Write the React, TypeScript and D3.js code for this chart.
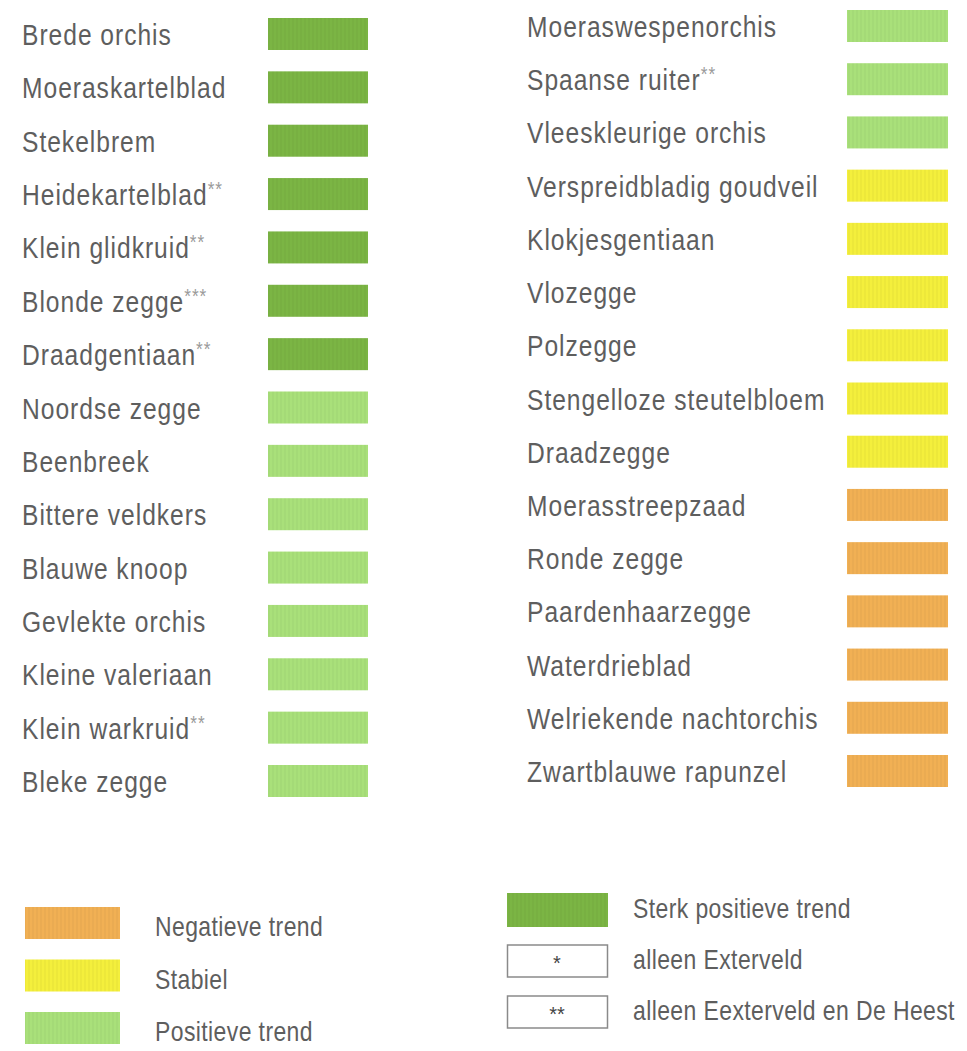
import React from "react";
import * as d3 from "d3";

// ---- Data ----
const leftSpecies = [
  "Brede orchis",
  "Moeraskartelblad",
  "Stekelbrem",
  "Heidekartelblad**",
  "Klein glidkruid**",
  "Blonde zegge***",
  "Draadgentiaan**",
  "Noordse zegge",
  "Beenbreek",
  "Bittere veldkers",
  "Blauwe knoop",
  "Gevlekte orchis",
  "Kleine valeriaan",
  "Klein warkruid**",
  "Bleke zegge",
];
const leftTrend = [
  "sterk", "sterk", "sterk", "sterk", "sterk", "sterk", "sterk",
  "positief", "positief", "positief", "positief", "positief", "positief", "positief", "positief",
];

const rightSpecies = [
  "Moeraswespenorchis",
  "Spaanse ruiter**",
  "Vleeskleurige orchis",
  "Verspreidbladig goudveil",
  "Klokjesgentiaan",
  "Vlozegge",
  "Polzegge",
  "Stengelloze steutelbloem",
  "Draadzegge",
  "Moerasstreepzaad",
  "Ronde zegge",
  "Paardenhaarzegge",
  "Waterdrieblad",
  "Welriekende nachtorchis",
  "Zwartblauwe rapunzel",
];
const rightTrend = [
  "positief", "positief", "positief",
  "stabiel", "stabiel", "stabiel", "stabiel", "stabiel", "stabiel",
  "negatief", "negatief", "negatief", "negatief", "negatief", "negatief",
];

const trendKeys = ["negatief", "stabiel", "positief", "sterk"];
const trendColors = ["#f1b054", "#f4ef3c", "#a9e07a", "#7bb544"];

const legendLeftKeys = ["negatief", "stabiel", "positief"];
const legendLeftLabels = ["Negatieve trend", "Stabiel", "Positieve trend"];

const legendRightKeys = ["sterk", "*", "**"];
const legendRightLabels = ["Sterk positieve trend", "alleen Exterveld", "alleen Eexterveld en De Heest"];

// ---- Styles ----
const FONT = "'Liberation Sans', Arial, sans-serif";
const SCALE_X = 0.82;
const TEXT_COLOR = "#5e5e5e";
const STAR_COLOR = "#9a9a9a";

const color = d3.scaleOrdinal<string, string>().domain(trendKeys).range(trendColors);

function splitStars(name: string): [string, string] {
  const m = name.match(/^(.*?)(\*+)$/);
  return m ? [m[1], m[2]] : [name, ""];
}

function Label({ x, y, name, size, spacing }: { x: number; y: number; name: string; size: number; spacing: number }) {
  const [base, stars] = splitStars(name);
  return (
    <text
      transform={`translate(${x},${y}) scale(${SCALE_X},1)`}
      fontFamily={FONT}
      fontSize={size}
      fill={TEXT_COLOR}
      letterSpacing={spacing}
    >
      {base}
      {stars && (
        <tspan fill={STAR_COLOR} fontSize={size * 0.7} dy={-size * 0.3}>
          {stars}
        </tspan>
      )}
    </text>
  );
}

export default function App() {
  const W = 967;
  const H = 1051;
  const swH = 32;

  const yLeft = d3.scalePoint<string>().domain(leftSpecies).range([34, 781]);
  const yRight = d3.scalePoint<string>().domain(rightSpecies).range([26, 771]);

  const yLegL = d3.scalePoint<string>().domain(legendLeftKeys).range([923, 1028]);
  const yLegR = d3.scalePoint<string>().domain(legendRightKeys).range([910, 1012]);

  const leftTextX = 22;
  const leftSwX = 268;
  const rightTextX = 527;
  const rightSwX = 847;
  const swW = 100;

  return (
    <div style={{ position: "absolute", left: 0, top: 0 }}>
      <svg width={W} height={H} style={{ display: "block", background: "#ffffff" }}>
        <defs>
          <pattern id="grain" width="4" height="4" patternUnits="userSpaceOnUse">
            <rect width="4" height="4" fill="none" />
            <line x1="1" y1="0" x2="1" y2="4" stroke="#000" strokeOpacity="0.05" strokeWidth="1" />
          </pattern>
        </defs>

        {leftSpecies.map((s, i) => {
          const cy = yLeft(s)!;
          return (
            <g key={"l" + i}>
              <Label x={leftTextX} y={cy + 11} name={s} size={30} spacing={1.2} />
              <rect x={leftSwX} y={cy - swH / 2} width={swW} height={swH} fill={color(leftTrend[i])} />
              <rect x={leftSwX} y={cy - swH / 2} width={swW} height={swH} fill="url(#grain)" />
            </g>
          );
        })}

        {rightSpecies.map((s, i) => {
          const cy = yRight(s)!;
          return (
            <g key={"r" + i}>
              <Label x={rightTextX} y={cy + 11} name={s} size={30} spacing={1.2} />
              <rect x={rightSwX} y={cy - swH / 2} width={swW + 1} height={swH} fill={color(rightTrend[i])} />
              <rect x={rightSwX} y={cy - swH / 2} width={swW + 1} height={swH} fill="url(#grain)" />
            </g>
          );
        })}

        {legendLeftKeys.map((k, i) => {
          const cy = yLegL(k)!;
          return (
            <g key={"ll" + i}>
              <rect x={25} y={cy - 16} width={95} height={32} fill={color(k)} />
              <rect x={25} y={cy - 16} width={95} height={32} fill="url(#grain)" />
              <Label x={155} y={cy + 13} name={legendLeftLabels[i]} size={28} spacing={0.5} />
            </g>
          );
        })}

        {legendRightKeys.map((k, i) => {
          const cy = yLegR(k)!;
          const isStar = k.startsWith("*");
          return (
            <g key={"lr" + i}>
              {isStar ? (
                <g>
                  <rect x={507.5} y={cy - 16} width={100} height={32} fill="#fff" stroke="#8a8a8a" strokeWidth={1.5} />
                  <text x={557} y={cy + 9} textAnchor="middle" fontFamily={FONT} fontSize={20} fill="#444">
                    {k}
                  </text>
                </g>
              ) : (
                <g>
                  <rect x={507} y={cy - 17} width={101} height={34} fill={color(k)} />
                  <rect x={507} y={cy - 17} width={101} height={34} fill="url(#grain)" />
                </g>
              )}
              <Label x={633} y={cy + 8} name={legendRightLabels[i]} size={28} spacing={0.5} />
            </g>
          );
        })}
      </svg>
    </div>
  );
}
